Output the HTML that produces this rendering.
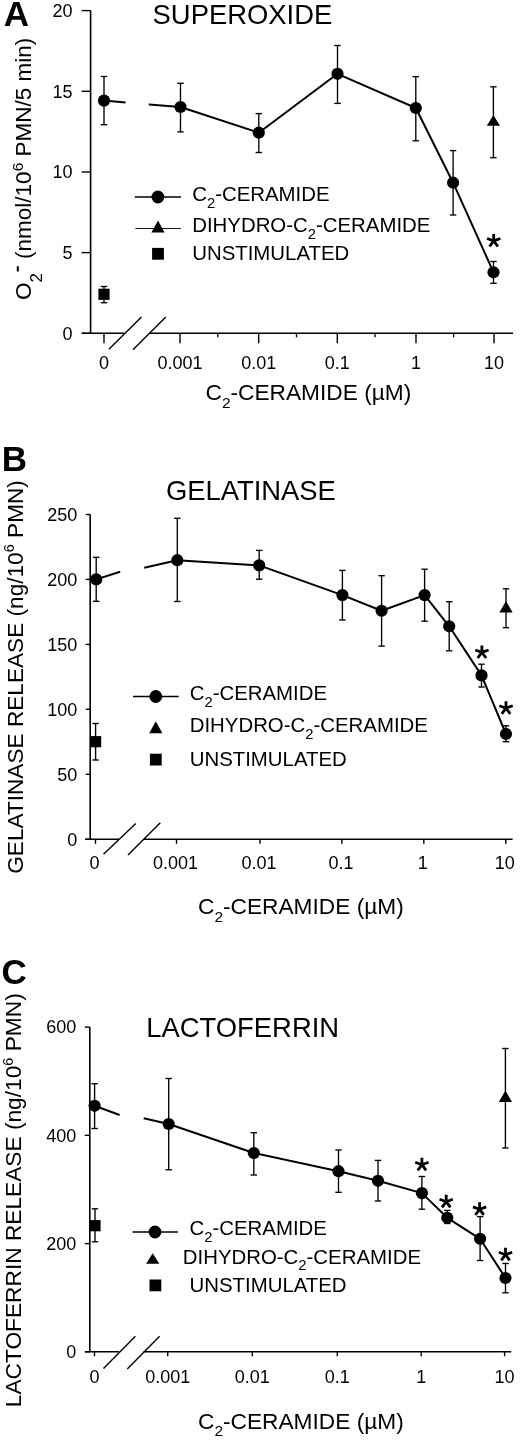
<!DOCTYPE html>
<html><head><meta charset="utf-8"><title>Ceramide figure</title>
<style>html,body{margin:0;padding:0;background:#fff;}body{width:520px;height:1440px;overflow:hidden;}svg{display:block;font-family:"Liberation Sans",sans-serif;filter:grayscale(1);}</style></head><body>
<svg width="520" height="1440" viewBox="0 0 520 1440" stroke="#000" fill="#000" stroke-linecap="butt">
<g>
<line x1="90.6" y1="10.6" x2="90.6" y2="333.3" stroke-width="1.6"/>
<line x1="81.6" y1="10.6" x2="90.6" y2="10.6" stroke-width="1.4"/>
<text stroke="none" x="72.6" y="16.8" font-size="18" text-anchor="end" font-weight="normal" >20</text>
<line x1="81.6" y1="91.3" x2="90.6" y2="91.3" stroke-width="1.4"/>
<text stroke="none" x="72.6" y="97.5" font-size="18" text-anchor="end" font-weight="normal" >15</text>
<line x1="81.6" y1="172.0" x2="90.6" y2="172.0" stroke-width="1.4"/>
<text stroke="none" x="72.6" y="178.2" font-size="18" text-anchor="end" font-weight="normal" >10</text>
<line x1="81.6" y1="252.6" x2="90.6" y2="252.6" stroke-width="1.4"/>
<text stroke="none" x="72.6" y="258.8" font-size="18" text-anchor="end" font-weight="normal" >5</text>
<line x1="81.6" y1="333.3" x2="90.6" y2="333.3" stroke-width="1.4"/>
<text stroke="none" x="72.6" y="339.5" font-size="18" text-anchor="end" font-weight="normal" >0</text>
<line x1="82.0" y1="333.3" x2="124.5" y2="333.3" stroke-width="1.6"/>
<line x1="149.0" y1="333.3" x2="513.0" y2="333.3" stroke-width="1.6"/>
<line x1="104.0" y1="333.3" x2="104.0" y2="343.3" stroke-width="1.4"/>
<text stroke="none" x="104.0" y="368.5" font-size="18" text-anchor="middle" font-weight="normal" >0</text>
<line x1="180.0" y1="333.3" x2="180.0" y2="343.3" stroke-width="1.4"/>
<text stroke="none" x="180.0" y="368.5" font-size="18" text-anchor="middle" font-weight="normal" >0.001</text>
<line x1="258.7" y1="333.3" x2="258.7" y2="343.3" stroke-width="1.4"/>
<text stroke="none" x="258.7" y="368.5" font-size="18" text-anchor="middle" font-weight="normal" >0.01</text>
<line x1="337.3" y1="333.3" x2="337.3" y2="343.3" stroke-width="1.4"/>
<text stroke="none" x="337.3" y="368.5" font-size="18" text-anchor="middle" font-weight="normal" >0.1</text>
<line x1="416.0" y1="333.3" x2="416.0" y2="343.3" stroke-width="1.4"/>
<text stroke="none" x="416.0" y="368.5" font-size="18" text-anchor="middle" font-weight="normal" >1</text>
<line x1="494.0" y1="333.3" x2="494.0" y2="343.3" stroke-width="1.4"/>
<text stroke="none" x="494.0" y="368.5" font-size="18" text-anchor="middle" font-weight="normal" >10</text>
<line x1="217.8" y1="333.3" x2="217.8" y2="337.3" stroke-width="1.3"/>
<line x1="296.5" y1="333.3" x2="296.5" y2="337.3" stroke-width="1.3"/>
<line x1="375.0" y1="333.3" x2="375.0" y2="337.3" stroke-width="1.3"/>
<line x1="453.6" y1="333.3" x2="453.6" y2="337.3" stroke-width="1.3"/>
<line x1="108.9" y1="349.2" x2="141.5" y2="316.9" stroke-width="1.4"/>
<line x1="133.0" y1="349.7" x2="165.8" y2="317.0" stroke-width="1.4"/>
<line x1="104.0" y1="76.5" x2="104.0" y2="124.7" stroke-width="1.35"/>
<line x1="100.8" y1="76.5" x2="107.2" y2="76.5" stroke-width="1.35"/>
<line x1="100.8" y1="124.7" x2="107.2" y2="124.7" stroke-width="1.35"/>
<line x1="180.5" y1="83.3" x2="180.5" y2="131.9" stroke-width="1.35"/>
<line x1="177.3" y1="83.3" x2="183.7" y2="83.3" stroke-width="1.35"/>
<line x1="177.3" y1="131.9" x2="183.7" y2="131.9" stroke-width="1.35"/>
<line x1="258.8" y1="113.6" x2="258.8" y2="152.5" stroke-width="1.35"/>
<line x1="255.6" y1="113.6" x2="262.0" y2="113.6" stroke-width="1.35"/>
<line x1="255.6" y1="152.5" x2="262.0" y2="152.5" stroke-width="1.35"/>
<line x1="337.5" y1="45.5" x2="337.5" y2="103.4" stroke-width="1.35"/>
<line x1="334.3" y1="45.5" x2="340.7" y2="45.5" stroke-width="1.35"/>
<line x1="334.3" y1="103.4" x2="340.7" y2="103.4" stroke-width="1.35"/>
<line x1="415.8" y1="76.6" x2="415.8" y2="140.8" stroke-width="1.35"/>
<line x1="412.6" y1="76.6" x2="419.0" y2="76.6" stroke-width="1.35"/>
<line x1="412.6" y1="140.8" x2="419.0" y2="140.8" stroke-width="1.35"/>
<line x1="453.1" y1="150.6" x2="453.1" y2="215.0" stroke-width="1.35"/>
<line x1="449.9" y1="150.6" x2="456.3" y2="150.6" stroke-width="1.35"/>
<line x1="449.9" y1="215.0" x2="456.3" y2="215.0" stroke-width="1.35"/>
<line x1="493.5" y1="261.5" x2="493.5" y2="283.3" stroke-width="1.35"/>
<line x1="490.3" y1="261.5" x2="496.7" y2="261.5" stroke-width="1.35"/>
<line x1="490.3" y1="283.3" x2="496.7" y2="283.3" stroke-width="1.35"/>
<line x1="493.4" y1="86.8" x2="493.4" y2="157.7" stroke-width="1.35"/>
<line x1="490.2" y1="86.8" x2="496.6" y2="86.8" stroke-width="1.35"/>
<line x1="490.2" y1="157.7" x2="496.6" y2="157.7" stroke-width="1.35"/>
<line x1="104.0" y1="286.5" x2="104.0" y2="302.7" stroke-width="1.35"/>
<line x1="100.8" y1="286.5" x2="107.2" y2="286.5" stroke-width="1.35"/>
<line x1="100.8" y1="302.7" x2="107.2" y2="302.7" stroke-width="1.35"/>
<polyline points="104.0,100.6 125.5,102.4" fill="none" stroke-width="2" stroke-linejoin="round"/>
<polyline points="148.8,104.6 180.5,107.0 258.8,132.7 337.5,73.8 415.8,108.0 453.1,182.7 493.5,272.3" fill="none" stroke-width="2" stroke-linejoin="round"/>
<circle cx="104.0" cy="100.6" r="6.1" stroke="none"/>
<circle cx="180.5" cy="107.0" r="6.1" stroke="none"/>
<circle cx="258.8" cy="132.7" r="6.1" stroke="none"/>
<circle cx="337.5" cy="73.8" r="6.1" stroke="none"/>
<circle cx="415.8" cy="108.0" r="6.1" stroke="none"/>
<circle cx="453.1" cy="182.7" r="6.1" stroke="none"/>
<circle cx="493.5" cy="272.3" r="6.1" stroke="none"/>
<polygon points="493.4,115.0 486.8,125.8 500.0,125.8" stroke="none"/>
<rect x="98.4" y="288.7" width="11.2" height="11.2" stroke="none"/>
<path d="M493.70,240.90L493.70,233.90M493.70,240.90L500.37,238.47M493.70,240.90L487.03,238.47M493.70,240.90L497.91,246.49M493.70,240.90L489.49,246.49" stroke-width="2.8" fill="none"/>
<line x1="134.8" y1="197.0" x2="181.0" y2="197.0" stroke-width="1.7"/>
<circle cx="157.9" cy="197.0" r="6.4" stroke="none"/>
<line x1="135.4" y1="228.5" x2="181.0" y2="228.5" stroke-width="0.9"/>
<polygon points="158.0,220.6 151.4,232.4 164.6,232.4" stroke="none"/>
<rect x="152.1" y="247.9" width="11.8" height="11.8" stroke="none"/>
<text stroke="none" x="192.2" y="201.2" font-size="20.4" text-anchor="start" font-weight="normal" >C<tspan font-size="14.8" dy="6.6">2</tspan><tspan dy="-6.6">-CERAMIDE</tspan></text>
<text stroke="none" x="192.2" y="232.2" font-size="20.4" text-anchor="start" font-weight="normal" >DIHYDRO-C<tspan font-size="14.8" dy="6.6">2</tspan><tspan dy="-6.6">-CERAMIDE</tspan></text>
<text stroke="none" x="192.2" y="260.0" font-size="20.4" text-anchor="start" font-weight="normal" >UNSTIMULATED</text>
<text stroke="none" x="152.6" y="24.0" font-size="27.4" text-anchor="start" font-weight="normal" >SUPEROXIDE</text>
<text stroke="none" x="3.8" y="26.3" font-size="35" text-anchor="start" font-weight="bold" >A</text>
<text stroke="none" x="205.5" y="400.2" font-size="22.7" text-anchor="start" font-weight="normal" >C<tspan font-size="15.5" dy="7.6">2</tspan><tspan dy="-7.6">-CERAMIDE (µM)</tspan></text>
<g transform="translate(31.2,300.0) rotate(-90)">
<text stroke="none" x="0" y="0" font-size="22.5">O</text>
<text stroke="none" x="17.4" y="11.2" font-size="17">2</text>
<line x1="28.5" y1="-13.4" x2="33.8" y2="-13.4" stroke-width="2"/>
<text stroke="none" x="41.1" y="0" font-size="22.5">(nmol/10<tspan font-size="15.5" dy="-8.3">6</tspan><tspan dy="8.3"> PMN/5 min)</tspan></text>
</g>
<line x1="90.2" y1="514.5" x2="90.2" y2="839.3" stroke-width="1.6"/>
<line x1="85.7" y1="514.5" x2="90.2" y2="514.5" stroke-width="1.4"/>
<text stroke="none" x="77.3" y="520.7" font-size="18" text-anchor="end" font-weight="normal" >250</text>
<line x1="85.7" y1="579.4" x2="90.2" y2="579.4" stroke-width="1.4"/>
<text stroke="none" x="77.3" y="585.6" font-size="18" text-anchor="end" font-weight="normal" >200</text>
<line x1="85.7" y1="644.4" x2="90.2" y2="644.4" stroke-width="1.4"/>
<text stroke="none" x="77.3" y="650.6" font-size="18" text-anchor="end" font-weight="normal" >150</text>
<line x1="85.7" y1="709.3" x2="90.2" y2="709.3" stroke-width="1.4"/>
<text stroke="none" x="77.3" y="715.5" font-size="18" text-anchor="end" font-weight="normal" >100</text>
<line x1="85.7" y1="774.3" x2="90.2" y2="774.3" stroke-width="1.4"/>
<text stroke="none" x="77.3" y="780.5" font-size="18" text-anchor="end" font-weight="normal" >50</text>
<line x1="85.7" y1="839.3" x2="90.2" y2="839.3" stroke-width="1.4"/>
<text stroke="none" x="77.3" y="845.5" font-size="18" text-anchor="end" font-weight="normal" >0</text>
<line x1="85.0" y1="839.3" x2="119.0" y2="839.3" stroke-width="1.6"/>
<line x1="144.0" y1="839.3" x2="512.6" y2="839.3" stroke-width="1.6"/>
<line x1="95.5" y1="839.3" x2="95.5" y2="843.8" stroke-width="1.4"/>
<text stroke="none" x="94.5" y="869.3" font-size="18" text-anchor="middle" font-weight="normal" >0</text>
<line x1="176.5" y1="839.3" x2="176.5" y2="843.8" stroke-width="1.4"/>
<text stroke="none" x="175.5" y="869.3" font-size="18" text-anchor="middle" font-weight="normal" >0.001</text>
<line x1="260.0" y1="839.3" x2="260.0" y2="843.8" stroke-width="1.4"/>
<text stroke="none" x="259.0" y="869.3" font-size="18" text-anchor="middle" font-weight="normal" >0.01</text>
<line x1="341.9" y1="839.3" x2="341.9" y2="843.8" stroke-width="1.4"/>
<text stroke="none" x="340.9" y="869.3" font-size="18" text-anchor="middle" font-weight="normal" >0.1</text>
<line x1="423.8" y1="839.3" x2="423.8" y2="843.8" stroke-width="1.4"/>
<text stroke="none" x="422.8" y="869.3" font-size="18" text-anchor="middle" font-weight="normal" >1</text>
<line x1="505.8" y1="839.3" x2="505.8" y2="843.8" stroke-width="1.4"/>
<text stroke="none" x="504.8" y="869.3" font-size="18" text-anchor="middle" font-weight="normal" >10</text>
<line x1="103.5" y1="854.3" x2="135.8" y2="823.4" stroke-width="1.4"/>
<line x1="128.0" y1="855.0" x2="160.3" y2="822.7" stroke-width="1.4"/>
<line x1="96.2" y1="557.3" x2="96.2" y2="601.3" stroke-width="1.35"/>
<line x1="93.0" y1="557.3" x2="99.4" y2="557.3" stroke-width="1.35"/>
<line x1="93.0" y1="601.3" x2="99.4" y2="601.3" stroke-width="1.35"/>
<line x1="177.3" y1="518.3" x2="177.3" y2="601.5" stroke-width="1.35"/>
<line x1="174.1" y1="518.3" x2="180.5" y2="518.3" stroke-width="1.35"/>
<line x1="174.1" y1="601.5" x2="180.5" y2="601.5" stroke-width="1.35"/>
<line x1="259.2" y1="550.4" x2="259.2" y2="579.2" stroke-width="1.35"/>
<line x1="256.0" y1="550.4" x2="262.4" y2="550.4" stroke-width="1.35"/>
<line x1="256.0" y1="579.2" x2="262.4" y2="579.2" stroke-width="1.35"/>
<line x1="342.4" y1="570.4" x2="342.4" y2="620.0" stroke-width="1.35"/>
<line x1="339.2" y1="570.4" x2="345.6" y2="570.4" stroke-width="1.35"/>
<line x1="339.2" y1="620.0" x2="345.6" y2="620.0" stroke-width="1.35"/>
<line x1="381.6" y1="575.7" x2="381.6" y2="646.1" stroke-width="1.35"/>
<line x1="378.4" y1="575.7" x2="384.8" y2="575.7" stroke-width="1.35"/>
<line x1="378.4" y1="646.1" x2="384.8" y2="646.1" stroke-width="1.35"/>
<line x1="424.6" y1="569.2" x2="424.6" y2="621.2" stroke-width="1.35"/>
<line x1="421.4" y1="569.2" x2="427.8" y2="569.2" stroke-width="1.35"/>
<line x1="421.4" y1="621.2" x2="427.8" y2="621.2" stroke-width="1.35"/>
<line x1="449.2" y1="601.7" x2="449.2" y2="650.8" stroke-width="1.35"/>
<line x1="446.0" y1="601.7" x2="452.4" y2="601.7" stroke-width="1.35"/>
<line x1="446.0" y1="650.8" x2="452.4" y2="650.8" stroke-width="1.35"/>
<line x1="481.5" y1="664.2" x2="481.5" y2="687.0" stroke-width="1.35"/>
<line x1="478.3" y1="664.2" x2="484.7" y2="664.2" stroke-width="1.35"/>
<line x1="478.3" y1="687.0" x2="484.7" y2="687.0" stroke-width="1.35"/>
<line x1="506.0" y1="725.8" x2="506.0" y2="741.7" stroke-width="1.35"/>
<line x1="502.8" y1="725.8" x2="509.2" y2="725.8" stroke-width="1.35"/>
<line x1="502.8" y1="741.7" x2="509.2" y2="741.7" stroke-width="1.35"/>
<line x1="506.0" y1="588.8" x2="506.0" y2="627.7" stroke-width="1.35"/>
<line x1="502.8" y1="588.8" x2="509.2" y2="588.8" stroke-width="1.35"/>
<line x1="502.8" y1="627.7" x2="509.2" y2="627.7" stroke-width="1.35"/>
<line x1="95.6" y1="723.5" x2="95.6" y2="760.0" stroke-width="1.35"/>
<line x1="92.4" y1="723.5" x2="98.8" y2="723.5" stroke-width="1.35"/>
<line x1="92.4" y1="760.0" x2="98.8" y2="760.0" stroke-width="1.35"/>
<polyline points="96.2,579.4 120.2,571.7" fill="none" stroke-width="2" stroke-linejoin="round"/>
<polyline points="144.2,567.7 177.3,560.2 259.2,565.4 342.4,595.1 381.6,610.8 424.6,595.1 449.2,626.3 481.5,675.4 506.0,734.0" fill="none" stroke-width="2" stroke-linejoin="round"/>
<circle cx="96.2" cy="579.4" r="6.1" stroke="none"/>
<circle cx="177.3" cy="560.2" r="6.1" stroke="none"/>
<circle cx="259.2" cy="565.4" r="6.1" stroke="none"/>
<circle cx="342.4" cy="595.1" r="6.1" stroke="none"/>
<circle cx="381.6" cy="610.8" r="6.1" stroke="none"/>
<circle cx="424.6" cy="595.1" r="6.1" stroke="none"/>
<circle cx="449.2" cy="626.3" r="6.1" stroke="none"/>
<circle cx="481.5" cy="675.4" r="6.1" stroke="none"/>
<circle cx="506.0" cy="734.0" r="6.1" stroke="none"/>
<polygon points="506.0,601.0 499.4,612.5 512.6,612.5" stroke="none"/>
<rect x="90.0" y="736.1" width="11.2" height="11.2" stroke="none"/>
<path d="M481.90,652.40L481.90,645.40M481.90,652.40L488.57,649.97M481.90,652.40L475.23,649.97M481.90,652.40L486.11,657.99M481.90,652.40L477.69,657.99" stroke-width="2.8" fill="none"/>
<path d="M506.00,708.20L506.00,701.20M506.00,708.20L512.67,705.77M506.00,708.20L499.33,705.77M506.00,708.20L510.21,713.79M506.00,708.20L501.79,713.79" stroke-width="2.8" fill="none"/>
<line x1="133.0" y1="696.5" x2="178.7" y2="696.5" stroke-width="1.7"/>
<circle cx="155.8" cy="696.5" r="6.4" stroke="none"/>
<polygon points="155.8,721.3 149.2,733.2 162.4,733.2" stroke="none"/>
<rect x="149.9" y="753.7" width="11.8" height="11.8" stroke="none"/>
<text stroke="none" x="189.7" y="700.3" font-size="20.4" text-anchor="start" font-weight="normal" >C<tspan font-size="14.8" dy="6.6">2</tspan><tspan dy="-6.6">-CERAMIDE</tspan></text>
<text stroke="none" x="189.7" y="732.3" font-size="20.4" text-anchor="start" font-weight="normal" >DIHYDRO-C<tspan font-size="14.8" dy="6.6">2</tspan><tspan dy="-6.6">-CERAMIDE</tspan></text>
<text stroke="none" x="189.7" y="766.0" font-size="20.4" text-anchor="start" font-weight="normal" >UNSTIMULATED</text>
<text stroke="none" x="165.9" y="499.7" font-size="27.4" text-anchor="start" font-weight="normal" >GELATINASE</text>
<text stroke="none" x="1.8" y="470.6" font-size="35" text-anchor="start" font-weight="bold" >B</text>
<text stroke="none" x="198.0" y="914.4" font-size="22.7" text-anchor="start" font-weight="normal" >C<tspan font-size="15.5" dy="7.6">2</tspan><tspan dy="-7.6">-CERAMIDE (µM)</tspan></text>
<g transform="translate(22.8,873.8) rotate(-90)">
<text stroke="none" x="0" y="0" font-size="22.63">GELATINASE RELEASE (ng/10<tspan font-size="14.5" dy="-8.6">6</tspan><tspan dy="8.6"> PMN)</tspan></text>
</g>
<line x1="89.8" y1="1027.1" x2="89.8" y2="1351.8" stroke-width="1.6"/>
<line x1="84.8" y1="1027.1" x2="89.8" y2="1027.1" stroke-width="1.4"/>
<text stroke="none" x="76.2" y="1033.3" font-size="18" text-anchor="end" font-weight="normal" >600</text>
<line x1="84.8" y1="1135.3" x2="89.8" y2="1135.3" stroke-width="1.4"/>
<text stroke="none" x="76.2" y="1141.5" font-size="18" text-anchor="end" font-weight="normal" >400</text>
<line x1="84.8" y1="1243.6" x2="89.8" y2="1243.6" stroke-width="1.4"/>
<text stroke="none" x="76.2" y="1249.8" font-size="18" text-anchor="end" font-weight="normal" >200</text>
<line x1="84.8" y1="1351.8" x2="89.8" y2="1351.8" stroke-width="1.4"/>
<text stroke="none" x="76.2" y="1358.0" font-size="18" text-anchor="end" font-weight="normal" >0</text>
<line x1="85.0" y1="1351.8" x2="119.0" y2="1351.8" stroke-width="1.6"/>
<line x1="143.5" y1="1351.8" x2="511.2" y2="1351.8" stroke-width="1.6"/>
<line x1="94.5" y1="1351.8" x2="94.5" y2="1356.3" stroke-width="1.4"/>
<text stroke="none" x="94.5" y="1382.8" font-size="18" text-anchor="middle" font-weight="normal" >0</text>
<line x1="167.7" y1="1351.8" x2="167.7" y2="1356.3" stroke-width="1.4"/>
<text stroke="none" x="167.7" y="1382.8" font-size="18" text-anchor="middle" font-weight="normal" >0.001</text>
<line x1="252.3" y1="1351.8" x2="252.3" y2="1356.3" stroke-width="1.4"/>
<text stroke="none" x="252.3" y="1382.8" font-size="18" text-anchor="middle" font-weight="normal" >0.01</text>
<line x1="337.3" y1="1351.8" x2="337.3" y2="1356.3" stroke-width="1.4"/>
<text stroke="none" x="337.3" y="1382.8" font-size="18" text-anchor="middle" font-weight="normal" >0.1</text>
<line x1="421.2" y1="1351.8" x2="421.2" y2="1356.3" stroke-width="1.4"/>
<text stroke="none" x="421.2" y="1382.8" font-size="18" text-anchor="middle" font-weight="normal" >1</text>
<line x1="504.6" y1="1351.8" x2="504.6" y2="1356.3" stroke-width="1.4"/>
<text stroke="none" x="504.6" y="1382.8" font-size="18" text-anchor="middle" font-weight="normal" >10</text>
<line x1="103.5" y1="1368.5" x2="135.4" y2="1336.2" stroke-width="1.4"/>
<line x1="127.3" y1="1369.0" x2="159.6" y2="1336.2" stroke-width="1.4"/>
<line x1="94.6" y1="1083.7" x2="94.6" y2="1128.5" stroke-width="1.35"/>
<line x1="91.4" y1="1083.7" x2="97.8" y2="1083.7" stroke-width="1.35"/>
<line x1="91.4" y1="1128.5" x2="97.8" y2="1128.5" stroke-width="1.35"/>
<line x1="168.7" y1="1078.5" x2="168.7" y2="1169.8" stroke-width="1.35"/>
<line x1="165.5" y1="1078.5" x2="171.9" y2="1078.5" stroke-width="1.35"/>
<line x1="165.5" y1="1169.8" x2="171.9" y2="1169.8" stroke-width="1.35"/>
<line x1="253.8" y1="1132.7" x2="253.8" y2="1175.0" stroke-width="1.35"/>
<line x1="250.6" y1="1132.7" x2="257.0" y2="1132.7" stroke-width="1.35"/>
<line x1="250.6" y1="1175.0" x2="257.0" y2="1175.0" stroke-width="1.35"/>
<line x1="338.5" y1="1150.0" x2="338.5" y2="1192.3" stroke-width="1.35"/>
<line x1="335.3" y1="1150.0" x2="341.7" y2="1150.0" stroke-width="1.35"/>
<line x1="335.3" y1="1192.3" x2="341.7" y2="1192.3" stroke-width="1.35"/>
<line x1="378.0" y1="1160.4" x2="378.0" y2="1201.0" stroke-width="1.35"/>
<line x1="374.8" y1="1160.4" x2="381.2" y2="1160.4" stroke-width="1.35"/>
<line x1="374.8" y1="1201.0" x2="381.2" y2="1201.0" stroke-width="1.35"/>
<line x1="421.9" y1="1176.5" x2="421.9" y2="1209.2" stroke-width="1.35"/>
<line x1="418.7" y1="1176.5" x2="425.1" y2="1176.5" stroke-width="1.35"/>
<line x1="418.7" y1="1209.2" x2="425.1" y2="1209.2" stroke-width="1.35"/>
<line x1="447.3" y1="1210.4" x2="447.3" y2="1223.5" stroke-width="1.35"/>
<line x1="444.1" y1="1210.4" x2="450.5" y2="1210.4" stroke-width="1.35"/>
<line x1="444.1" y1="1223.5" x2="450.5" y2="1223.5" stroke-width="1.35"/>
<line x1="480.1" y1="1216.6" x2="480.1" y2="1260.5" stroke-width="1.35"/>
<line x1="476.9" y1="1216.6" x2="483.3" y2="1216.6" stroke-width="1.35"/>
<line x1="476.9" y1="1260.5" x2="483.3" y2="1260.5" stroke-width="1.35"/>
<line x1="505.5" y1="1263.5" x2="505.5" y2="1292.8" stroke-width="1.35"/>
<line x1="502.3" y1="1263.5" x2="508.7" y2="1263.5" stroke-width="1.35"/>
<line x1="502.3" y1="1292.8" x2="508.7" y2="1292.8" stroke-width="1.35"/>
<line x1="505.4" y1="1048.5" x2="505.4" y2="1148.0" stroke-width="1.35"/>
<line x1="502.2" y1="1048.5" x2="508.6" y2="1048.5" stroke-width="1.35"/>
<line x1="502.2" y1="1148.0" x2="508.6" y2="1148.0" stroke-width="1.35"/>
<line x1="95.0" y1="1208.8" x2="95.0" y2="1241.8" stroke-width="1.35"/>
<line x1="91.8" y1="1208.8" x2="98.2" y2="1208.8" stroke-width="1.35"/>
<line x1="91.8" y1="1241.8" x2="98.2" y2="1241.8" stroke-width="1.35"/>
<polyline points="94.6,1105.8 119.6,1115.0" fill="none" stroke-width="2" stroke-linejoin="round"/>
<polyline points="143.7,1118.3 168.7,1124.0 253.8,1153.0 338.5,1171.2 378.0,1180.8 421.9,1193.1 447.3,1217.8 480.1,1238.8 505.5,1278.0" fill="none" stroke-width="2" stroke-linejoin="round"/>
<circle cx="94.6" cy="1105.8" r="6.1" stroke="none"/>
<circle cx="168.7" cy="1124.0" r="6.1" stroke="none"/>
<circle cx="253.8" cy="1153.0" r="6.1" stroke="none"/>
<circle cx="338.5" cy="1171.2" r="6.1" stroke="none"/>
<circle cx="378.0" cy="1180.8" r="6.1" stroke="none"/>
<circle cx="421.9" cy="1193.1" r="6.1" stroke="none"/>
<circle cx="447.3" cy="1217.8" r="6.1" stroke="none"/>
<circle cx="480.1" cy="1238.8" r="6.1" stroke="none"/>
<circle cx="505.5" cy="1278.0" r="6.1" stroke="none"/>
<polygon points="505.4,1090.6 498.8,1102.0 512.0,1102.0" stroke="none"/>
<rect x="89.4" y="1220.1" width="11.2" height="11.2" stroke="none"/>
<path d="M421.90,1164.70L421.90,1157.70M421.90,1164.70L428.57,1162.27M421.90,1164.70L415.23,1162.27M421.90,1164.70L426.11,1170.29M421.90,1164.70L417.69,1170.29" stroke-width="2.8" fill="none"/>
<path d="M446.20,1201.70L446.20,1194.70M446.20,1201.70L452.87,1199.27M446.20,1201.70L439.53,1199.27M446.20,1201.70L450.41,1207.29M446.20,1201.70L441.99,1207.29" stroke-width="2.8" fill="none"/>
<path d="M479.60,1209.30L479.60,1202.30M479.60,1209.30L486.27,1206.87M479.60,1209.30L472.93,1206.87M479.60,1209.30L483.81,1214.89M479.60,1209.30L475.39,1214.89" stroke-width="2.8" fill="none"/>
<path d="M505.50,1254.70L505.50,1247.70M505.50,1254.70L512.17,1252.27M505.50,1254.70L498.83,1252.27M505.50,1254.70L509.71,1260.29M505.50,1254.70L501.29,1260.29" stroke-width="2.8" fill="none"/>
<line x1="132.6" y1="1232.0" x2="178.0" y2="1232.0" stroke-width="1.7"/>
<circle cx="155.0" cy="1232.0" r="6.4" stroke="none"/>
<polygon points="152.7,1253.2 146.1,1263.7 159.3,1263.7" stroke="none"/>
<rect x="149.5" y="1279.5" width="11.8" height="11.8" stroke="none"/>
<text stroke="none" x="189.5" y="1235.0" font-size="20.4" text-anchor="start" font-weight="normal" >C<tspan font-size="14.8" dy="6.6">2</tspan><tspan dy="-6.6">-CERAMIDE</tspan></text>
<text stroke="none" x="182.8" y="1263.5" font-size="20.4" text-anchor="start" font-weight="normal" >DIHYDRO-C<tspan font-size="14.8" dy="6.6">2</tspan><tspan dy="-6.6">-CERAMIDE</tspan></text>
<text stroke="none" x="189.5" y="1292.0" font-size="20.4" text-anchor="start" font-weight="normal" >UNSTIMULATED</text>
<text stroke="none" x="146.3" y="1037.2" font-size="27.4" text-anchor="start" font-weight="normal" >LACTOFERRIN</text>
<text stroke="none" x="1.4" y="984.0" font-size="35" text-anchor="start" font-weight="bold" >C</text>
<text stroke="none" x="198.0" y="1428.8" font-size="22.7" text-anchor="start" font-weight="normal" >C<tspan font-size="15.5" dy="7.6">2</tspan><tspan dy="-7.6">-CERAMIDE (µM)</tspan></text>
<g transform="translate(21.1,1407.2) rotate(-90)">
<text stroke="none" x="0" y="0" font-size="22.71">LACTOFERRIN RELEASE (ng/10<tspan font-size="14.5" dy="-8.6">6</tspan><tspan dy="8.6"> PMN)</tspan></text>
</g>
</g>
</svg></body></html>
